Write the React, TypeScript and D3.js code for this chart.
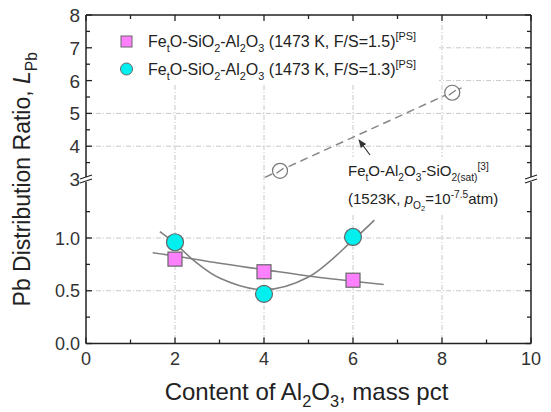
import React from "react";
import * as d3 from "d3";

// ---- data ----
const alContent = [2, 4, 6];
const lpbFS15 = [0.8, 0.68, 0.6];
const lpbFS13 = [0.96, 0.47, 1.01];
const fit15X = [1.5, 2, 3, 4, 5, 6, 6.69];
const fit15Y = [0.86, 0.83, 0.76, 0.7, 0.64, 0.59, 0.56];
const fit13X = [1.66, 2, 2.44, 3, 4, 5, 6, 6.48];
const fit13Y = [1.06, 0.95, 0.78, 0.62, 0.51, 0.63, 0.98, 1.17];
const litX = [4.36, 8.23];
const litY = [3.25, 5.63];
const litFitX = [4.02, 8.49];
const litFitY = [3.05, 5.81];
const xTicks = [0, 2, 4, 6, 8, 10];
const xMinor = [1, 3, 5, 7, 9];
const yLowTicks = [0, 0.5, 1.0];
const yLowMinor = [0.25, 0.75, 1.25];
const yUpTicks = [3, 4, 5, 6, 7, 8];
const yUpMinor = [3.5, 4.5, 5.5, 6.5, 7.5];

type Seg = { t: string; k?: "sub" | "sup" | "it" | "subsub" };

function Rich({ segs, x, y, size, anchor, transform }: { segs: Seg[]; x: number; y: number; size: number; anchor?: string; transform?: string }) {
  let level = 0;
  const out: any[] = [];
  segs.forEach((s, i) => {
    let target = 0;
    let fs = size;
    let style: any = {};
    if (s.k === "sub") { target = size * 0.3; fs = size * 0.68; }
    else if (s.k === "subsub") { target = size * 0.45; fs = size * 0.5; }
    else if (s.k === "sup") { target = -size * 0.42; fs = size * 0.68; }
    else if (s.k === "it") { style = { fontStyle: "italic" }; }
    const dy = target - level;
    level = target;
    out.push(
      <tspan key={i} dy={dy} fontSize={fs} style={style}>{s.t}</tspan>
    );
  });
  return (
    <text x={x} y={y} fontSize={size} textAnchor={anchor || "start"} transform={transform} fill="#222">
      {out}
    </text>
  );
}

export default function App() {
  const W = 551, H = 412;
  const L = 86, R = 531, T = 15, B = 343.5, BRK = 180;
  const x = d3.scaleLinear().domain([0, 10]).range([L, R]);
  const yLow = d3.scaleLinear().domain([0, 1.55]).range([B, BRK]);
  const yUp = d3.scaleLinear().domain([3, 8]).range([179, T]);

  const lineLow = d3.line<[number, number]>().x(d => x(d[0])).y(d => yLow(d[1])).curve(d3.curveCatmullRom.alpha(0.5));
  const lineUp = d3.line<[number, number]>().x(d => x(d[0])).y(d => yUp(d[1]));

  const fit15 = fit15X.map((v, i) => [v, fit15Y[i]] as [number, number]);
  const fit13 = fit13X.map((v, i) => [v, fit13Y[i]] as [number, number]);
  const litFit = litFitX.map((v, i) => [v, litFitY[i]] as [number, number]);

  const grid = "#c8c8c8";
  const gridDash = "5,2,1,2";
  const tickFont = 18;

  const legendSegs = (fs: string): Seg[] => [
    { t: "Fe" }, { t: "t", k: "sub" }, { t: "O-SiO" }, { t: "2", k: "sub" }, { t: "-Al" }, { t: "2", k: "sub" }, { t: "O" }, { t: "3", k: "sub" },
    { t: ` (1473 K, F/S=${fs})` }, { t: "[PS]", k: "sup" },
  ];

  return (
    <svg width={W} height={H} style={{ position: "absolute", left: 0, top: 0, fontFamily: "Liberation Sans, Arial, sans-serif" }}>
      <defs>
        <marker id="arr" viewBox="0 0 10 10" refX="9" refY="5" markerWidth="7" markerHeight="7" orient="auto-start-reverse">
          <path d="M0,1 L10,5 L0,9 z" fill="#333" />
        </marker>
      </defs>
      <rect x={0} y={0} width={W} height={H} fill="#fff" />
      {/* gridlines */}
      {[2, 4, 6, 8].map(v => (
        <line key={"vg" + v} x1={x(v)} x2={x(v)} y1={T} y2={B} stroke={grid} strokeDasharray={gridDash} strokeWidth={1} />
      ))}
      {[0.5, 1.0].map(v => (
        <line key={"hl" + v} x1={L} x2={R} y1={yLow(v)} y2={yLow(v)} stroke={grid} strokeDasharray={gridDash} strokeWidth={1} />
      ))}
      {[4, 5, 6, 7].map(v => (
        <line key={"hu" + v} x1={L} x2={R} y1={yUp(v)} y2={yUp(v)} stroke={grid} strokeDasharray={gridDash} strokeWidth={1} />
      ))}
      {/* legend background */}
      <rect x={L + 1} y={T + 1} width={352} height={69} fill="#fff" />
      {/* annotation background */}
      <rect x={345} y={157} width={162} height={56} fill="#fff" />

      {/* literature dashed fit and markers */}
      <path d={lineUp(litFit) || ""} fill="none" stroke="#888" strokeWidth={1.5} strokeDasharray="8,5" />
      {litX.map((v, i) => (
        <g key={"lit" + i}>
          <circle cx={x(v)} cy={yUp(litY[i])} r={7.5} fill="#fff" stroke="#777" strokeWidth={1.2} />
          <line x1={x(v) - 3.5} y1={yUp(litY[i]) + 2.5} x2={x(v) + 3.5} y2={yUp(litY[i]) - 2.5} stroke="#777" strokeWidth={1.2} />
        </g>
      ))}

      {/* fit lines */}
      <path d={lineLow(fit15) || ""} fill="none" stroke="#808080" strokeWidth={1.6} />
      <path d={lineLow(fit13) || ""} fill="none" stroke="#808080" strokeWidth={1.6} />

      {/* data markers */}
      {alContent.map((v, i) => (
        <rect key={"sq" + i} x={x(v) - 7} y={yLow(lpbFS15[i]) - 7} width={14} height={14} fill="#ff80ff" stroke="#666" strokeWidth={1.2} />
      ))}
      {alContent.map((v, i) => (
        <circle key={"ci" + i} cx={x(v)} cy={yLow(lpbFS13[i])} r={8.5} fill="#00f0f0" stroke="#666" strokeWidth={1.2} />
      ))}

      {/* frame */}
      <line x1={L} x2={R} y1={T} y2={T} stroke="#222" strokeWidth={1.5} />
      <line x1={L} x2={R} y1={B} y2={B} stroke="#222" strokeWidth={1.5} />
      <line x1={L} x2={L} y1={T} y2={B} stroke="#222" strokeWidth={1.5} />
      <line x1={R} x2={R} y1={T} y2={B} stroke="#222" strokeWidth={1.5} />

      {/* x ticks */}
      {xTicks.map(v => (
        <g key={"xt" + v}>
          <line x1={x(v)} x2={x(v)} y1={B} y2={B - 6} stroke="#222" strokeWidth={1.3} />
          <line x1={x(v)} x2={x(v)} y1={T} y2={T + 6} stroke="#222" strokeWidth={1.3} />
          <text x={x(v)} y={B + 21} textAnchor="middle" fontSize={tickFont} fill="#333">{v}</text>
        </g>
      ))}
      {xMinor.map(v => (
        <g key={"xm" + v}>
          <line x1={x(v)} x2={x(v)} y1={B} y2={B - 4} stroke="#222" strokeWidth={1.3} />
          <line x1={x(v)} x2={x(v)} y1={T} y2={T + 4} stroke="#222" strokeWidth={1.3} />
        </g>
      ))}
      {/* y ticks lower */}
      {yLowTicks.map(v => (
        <g key={"yl" + v}>
          <line x1={L} x2={L + 6} y1={yLow(v)} y2={yLow(v)} stroke="#222" strokeWidth={1.3} />
          <line x1={R} x2={R - 6} y1={yLow(v)} y2={yLow(v)} stroke="#222" strokeWidth={1.3} />
          <text x={L - 6} y={yLow(v) + 6.5} textAnchor="end" fontSize={tickFont} fill="#333">{v.toFixed(1)}</text>
        </g>
      ))}
      {yLowMinor.map(v => (
        <g key={"ylm" + v}>
          <line x1={L} x2={L + 4} y1={yLow(v)} y2={yLow(v)} stroke="#222" strokeWidth={1.3} />
          <line x1={R} x2={R - 4} y1={yLow(v)} y2={yLow(v)} stroke="#222" strokeWidth={1.3} />
        </g>
      ))}
      {/* y ticks upper */}
      {yUpTicks.map(v => (
        <g key={"yu" + v}>
          {v > 3 && <line x1={L} x2={L + 6} y1={yUp(v)} y2={yUp(v)} stroke="#222" strokeWidth={1.3} />}
          {v > 3 && <line x1={R} x2={R - 6} y1={yUp(v)} y2={yUp(v)} stroke="#222" strokeWidth={1.3} />}
          <text x={L - 6} y={yUp(v) + 7} textAnchor="end" fontSize={tickFont + 1} fill="#333">{v}</text>
        </g>
      ))}
      {yUpMinor.map(v => (
        <g key={"yum" + v}>
          <line x1={L} x2={L + 4} y1={yUp(v)} y2={yUp(v)} stroke="#222" strokeWidth={1.3} />
          <line x1={R} x2={R - 4} y1={yUp(v)} y2={yUp(v)} stroke="#222" strokeWidth={1.3} />
        </g>
      ))}

      {/* axis breaks */}
      {[L, R].map(ax => (
        <g key={"brk" + ax}>
          <rect x={ax - 2} y={BRK - 3} width={4} height={5} fill="#fff" />
          <line x1={ax - 6} y1={BRK - 1} x2={ax + 6} y2={BRK - 5} stroke="#222" strokeWidth={1.3} />
          <line x1={ax - 6} y1={BRK + 3} x2={ax + 6} y2={BRK - 1} stroke="#222" strokeWidth={1.3} />
        </g>
      ))}

      {/* legend */}
      <rect x={121} y={36} width={11} height={11} fill="#ff80ff" stroke="#666" strokeWidth={1} />
      <Rich segs={legendSegs("1.5")} x={148} y={47} size={16} />
      <circle cx={126.5} cy={69} r={6} fill="#00f0f0" stroke="#666" strokeWidth={1} />
      <Rich segs={legendSegs("1.3")} x={148} y={75} size={16} />

      {/* annotation */}
      <line x1={370} y1={155} x2={359} y2={140} stroke="#333" strokeWidth={1.2} markerEnd="url(#arr)" />
      <Rich
        segs={[{ t: "Fe" }, { t: "t", k: "sub" }, { t: "O-Al" }, { t: "2", k: "sub" }, { t: "O" }, { t: "3", k: "sub" }, { t: "-SiO" }, { t: "2(sat)", k: "sub" }, { t: "[3]", k: "sup" }]}
        x={348} y={176} size={15}
      />
      <Rich
        segs={[{ t: "(1523K, " }, { t: "p", k: "it" }, { t: "O", k: "sub" }, { t: "2", k: "subsub" }, { t: "=10" }, { t: "-7.5", k: "sup" }, { t: "atm)" }]}
        x={348} y={204} size={15}
      />

      {/* axis titles */}
      <Rich
        segs={[{ t: "Content of Al" }, { t: "2", k: "sub" }, { t: "O" }, { t: "3", k: "sub" }, { t: ", mass pct" }]}
        x={(L + R) / 2 - 2} y={400} size={24} anchor="middle"
      />
      <Rich
        segs={[{ t: "Pb Distribution Ratio, " }, { t: "L", k: "it" }, { t: "Pb", k: "sub" }]}
        x={0} y={0} size={23} anchor="middle" transform={`translate(30,${(T + B) / 2}) rotate(-90)`}
      />
    </svg>
  );
}
